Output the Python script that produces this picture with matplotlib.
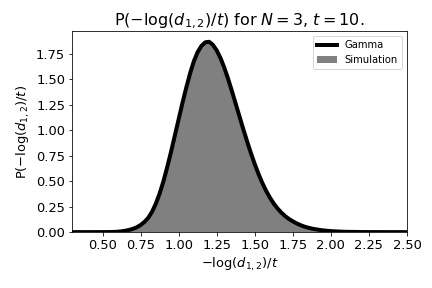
import numpy as np
import matplotlib
matplotlib.use('Agg')
import matplotlib.pyplot as plt

# Values (x = -log(d12)/t, y = density).
x_vals = [0.300, 0.500, 0.550, 0.575, 0.600, 0.625, 0.650, 0.675, 0.700, 0.725,
          0.750, 0.775, 0.800, 0.825, 0.850, 0.875, 0.900, 0.925, 0.950, 0.975,
          1.000, 1.025, 1.050, 1.075, 1.100, 1.125, 1.150, 1.175, 1.200, 1.225,
          1.250, 1.275, 1.300, 1.325, 1.350, 1.375, 1.400, 1.425, 1.450, 1.475,
          1.500, 1.525, 1.550, 1.575, 1.600, 1.625, 1.650, 1.675, 1.700, 1.725,
          1.750, 1.775, 1.800, 1.825, 1.850, 1.875, 1.900, 1.925, 1.950, 1.975,
          2.000, 2.050, 2.100, 2.200, 2.300, 2.500]
gamma_vals = [0.000, 0.0003, 0.001, 0.002, 0.004, 0.008, 0.014, 0.022, 0.033, 0.048,
              0.070, 0.100, 0.140, 0.200, 0.280, 0.380, 0.500, 0.640, 0.790, 0.950,
              1.110, 1.270, 1.420, 1.560, 1.680, 1.770, 1.830, 1.865, 1.870, 1.840,
              1.785, 1.710, 1.615, 1.505, 1.385, 1.260, 1.135, 1.010, 0.890, 0.775,
              0.668, 0.570, 0.482, 0.405, 0.338, 0.280, 0.232, 0.191, 0.157, 0.129,
              0.106, 0.086, 0.069, 0.055, 0.044, 0.035, 0.028, 0.022, 0.017, 0.013,
              0.010, 0.006, 0.003, 0.001, 0.0003, 0.000]

# Simulation histogram (bin centres and heights).
sim_centers = x_vals
sim_heights = gamma_vals

fig = plt.figure(figsize=(6, 4), dpi=72)
ax = fig.add_subplot(111)
fig.subplots_adjust(left=0.167, right=0.942, top=0.892, bottom=0.194)

# Bin edges halfway between neighbouring centres.
c = np.array(sim_centers)
edges = np.concatenate([[c[0]], (c[:-1] + c[1:]) / 2, [c[-1]]])
_, _, patches = ax.hist(sim_centers, bins=edges, weights=sim_heights, color='gray', label='Simulation')
line, = ax.plot(x_vals, gamma_vals, color='black', lw=4, solid_joinstyle='round', label='Gamma')

ax.set_xlim(0.3, 2.5)
ax.set_ylim(0, 1.975)
ax.set_xticks(np.arange(0.5, 2.51, 0.25))
ax.set_yticks(np.arange(0, 1.76, 0.25))
ax.tick_params(labelsize=13)
ax.set_xlabel(r'$-\log(d_{1,2})/t$', fontsize=13)
ax.set_ylabel(r'P$(-\log(d_{1,2})/t)$', fontsize=13)
ax.set_title(r'P$(-\log(d_{1,2})/t)$ for $N=3$, $t=10$.', fontsize=16)
ax.legend([line, patches[0]], ['Gamma', 'Simulation'], loc='upper right', fontsize=10)

plt.savefig('out.png', dpi=72)
